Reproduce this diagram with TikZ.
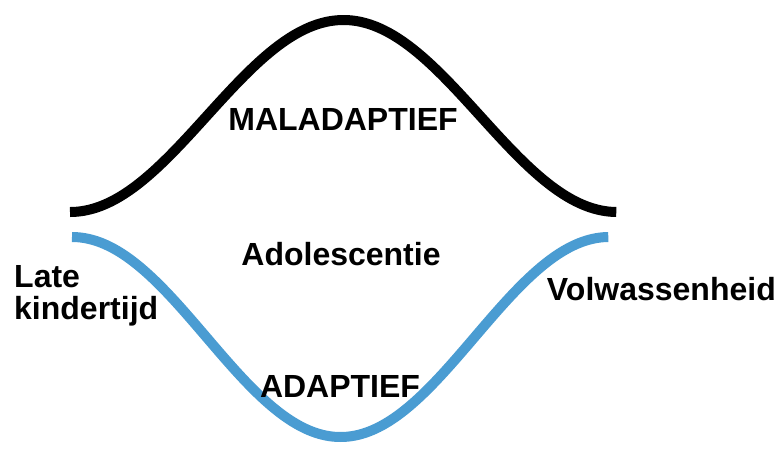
\documentclass[tikz,border=0pt]{standalone}
\usepackage{fontspec}
\setmainfont{Liberation Sans}
\usepackage{tikz}

\definecolor{adaptblue}{HTML}{4A9CD2}

\begin{document}
\begin{tikzpicture}[
  x=1pt, y=-1pt,
  lbl/.style={font=\fontsize{32}{32}\selectfont\bfseries, inner sep=0pt},
  wave/.style={line width=10pt, line cap=butt}
]
\useasboundingbox (0,0) rectangle (781,448);
% maladaptive path: black bump
\draw[wave, black] plot[domain=0:1, samples=120, smooth]
  ({70+547*\x}, {212-192*(1-cos(360*\x))/2});
% adaptive path: blue dip
\draw[wave, adaptblue] plot[domain=0:1, samples=120, smooth]
  ({72+537*\x}, {237+200*(1-cos(360*\x))/2});
\node[lbl, anchor=base] (mal) at (343,130) {MALADAPTIEF};
\node[lbl, anchor=base] (ado) at (341,265) {Adolescentie};
\node[lbl, anchor=base] (adp) at (340,397) {ADAPTIEF};
\node[lbl, anchor=north west, align=left] (late) at (14,265) {Late\\kindertijd};
\node[lbl, anchor=base east] (vol) at (776,300) {Volwassenheid};
\end{tikzpicture}
\end{document}
